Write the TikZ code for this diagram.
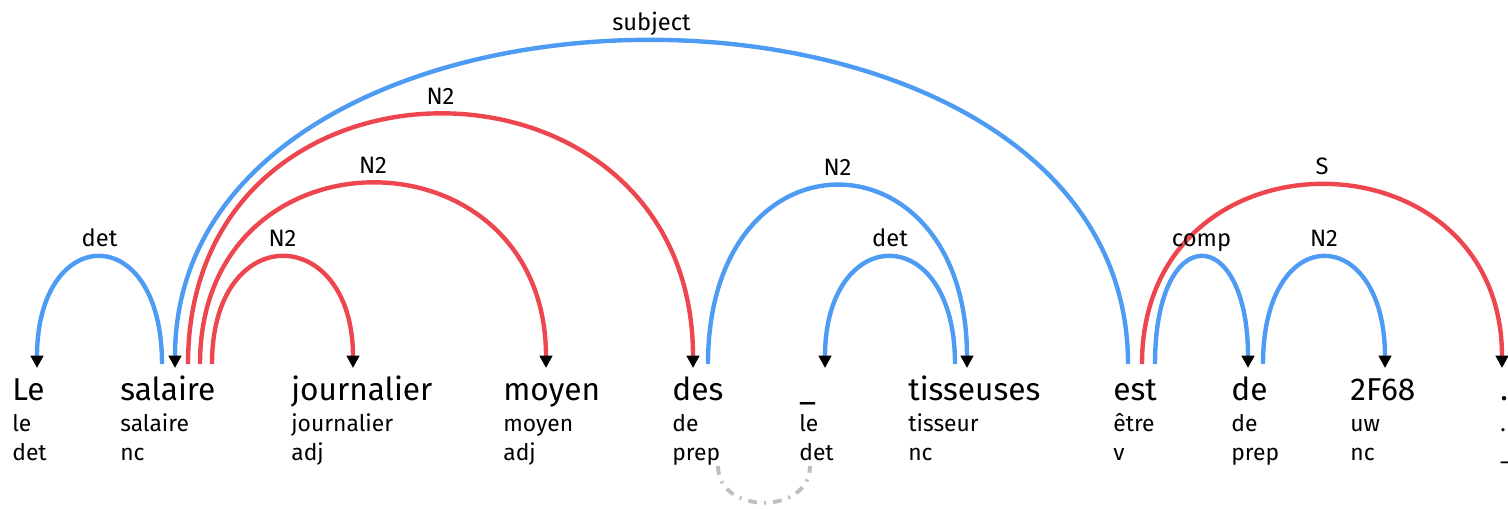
\documentclass[tikz,border=0pt]{standalone}
\usepackage{fontspec}
\setmainfont{Fira Sans}
\usetikzlibrary{arrows.meta}
\definecolor{arcblue}{RGB}{77,155,243}
\definecolor{arcred}{RGB}{238,70,78}
\tikzset{
	word/.style={anchor=base west, inner sep=0pt, font=\fontsize{18}{20}\selectfont},
	lemma/.style={anchor=base west, inner sep=0pt, font=\fontsize{13}{15}\selectfont},
	lbl/.style={anchor=base, inner sep=0pt, yshift=6pt, font=\fontsize{13.5}{15}\selectfont},
	dep/.style={line width=2.5pt, -{Triangle[color=black,length=7pt,width=7pt]}},
	blu/.style={dep, draw=arcblue},
	rd/.style={dep, draw=arcred},
	amal/.style={draw=gray!50, line width=2.2pt, dash pattern=on 5pt off 4pt on 1.2pt off 4pt}
}

\begin{document}
\begin{tikzpicture}[x=0.02cm, y=-0.02cm]
\useasboundingbox (0,0) rectangle (1508,508);
% words, lemmas, tags
\node (le) [word] at (12,400) {Le};
\node (le-l) [lemma] at (12,431) {le};
\node (le-p) [lemma] at (12,460) {det};
\node (salaire) [word] at (120,400) {salaire};
\node (salaire-l) [lemma] at (120,431) {salaire};
\node (salaire-p) [lemma] at (120,460) {nc};
\node (journ) [word] at (291,400) {journalier};
\node (journ-l) [lemma] at (291,431) {journalier};
\node (journ-p) [lemma] at (291,460) {adj};
\node (moyen) [word] at (503,400) {moyen};
\node (moyen-l) [lemma] at (503,431) {moyen};
\node (moyen-p) [lemma] at (503,460) {adj};
\node (des) [word] at (672,400) {des};
\node (des-l) [lemma] at (672,431) {de};
\node (des-p) [lemma] at (672,460) {prep};
\node (art) [word] at (799,400) {\_};
\node (art-l) [lemma] at (799,431) {le};
\node (art-p) [lemma] at (799,460) {det};
\node (tiss) [word] at (908,400) {tisseuses};
\node (tiss-l) [lemma] at (908,431) {tisseur};
\node (tiss-p) [lemma] at (908,460) {nc};
\node (est) [word] at (1113,400) {est};
\node (est-l) [lemma] at (1113,431) {être};
\node (est-p) [lemma] at (1113,460) {v};
\node (de) [word] at (1231,400) {de};
\node (de-l) [lemma] at (1231,431) {de};
\node (de-p) [lemma] at (1231,460) {prep};
\node (uw) [word] at (1350,400) {2F68};
\node (uw-l) [lemma] at (1350,431) {uw};
\node (uw-p) [lemma] at (1350,460) {nc};
\node (pt) [word] at (1500,400) {.};
\node (pt-l) [lemma] at (1500,431) {.};
\node (pt-p) [lemma] at (1500,460) {\_};
% arc ends
\coordinate (le-h) at (37,368);
\coordinate (sal-t1) at (162,364); \coordinate (sal-h) at (175,368);
\coordinate (sal-t2) at (188,364); \coordinate (sal-t3) at (200,364);
\coordinate (sal-t4) at (212,364);
\coordinate (jou-h) at (353,368); \coordinate (moy-h) at (546,368);
\coordinate (des-h) at (693,368); \coordinate (des-t) at (708,364);
\coordinate (art-h) at (825,368);
\coordinate (tis-t) at (955,364); \coordinate (tis-h) at (967,368);
\coordinate (est-t1) at (1128,364); \coordinate (est-t2) at (1142,364);
\coordinate (est-t3) at (1155,364);
\coordinate (de-h) at (1248,368); \coordinate (de-t) at (1263,364);
\coordinate (uw-h) at (1385,368); \coordinate (pt-h) at (1502,368);
\coordinate (des-b) at (718,466); \coordinate (art-b) at (810,466);
% dependencies
\draw[blu] (sal-t1) .. controls +(0,-145) and +(0,-145) .. (le-h) node[lbl,pos=0.5] {det};
\draw[blu] (est-t1) .. controls +(0,-433) and +(0,-433) .. (sal-h) node[lbl,pos=0.5] {subject};
\draw[rd] (sal-t2) .. controls +(0,-335) and +(0,-335) .. (des-h) node[lbl,pos=0.5] {N2};
\draw[rd] (sal-t3) .. controls +(0,-243) and +(0,-243) .. (moy-h) node[lbl,pos=0.5] {N2};
\draw[rd] (sal-t4) .. controls +(0,-145) and +(0,-145) .. (jou-h) node[lbl,pos=0.5] {N2};
\draw[blu] (des-t) .. controls +(0,-240) and +(0,-240) .. (tis-h) node[lbl,pos=0.5] {N2};
\draw[blu] (tis-t) .. controls +(0,-145) and +(0,-145) .. (art-h) node[lbl,pos=0.5] {det};
\draw[rd] (est-t2) .. controls +(0,-241) and +(0,-241) .. (pt-h) node[lbl,pos=0.5] {S};
\draw[blu] (est-t3) .. controls +(0,-145) and +(0,-145) .. (de-h) node[lbl,pos=0.5] {comp};
\draw[blu] (de-t) .. controls +(0,-145) and +(0,-145) .. (uw-h) node[lbl,pos=0.5] {N2};
\draw[amal] (des-b) .. controls +(0,49) and +(0,49) .. (art-b);
\end{tikzpicture}
\end{document}
